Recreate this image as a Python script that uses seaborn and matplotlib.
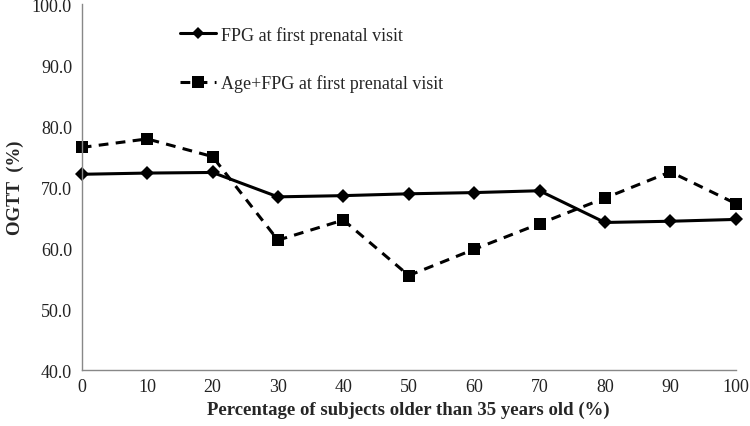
import matplotlib
matplotlib.use("Agg")
import matplotlib.pyplot as plt
import seaborn as sns
import pandas as pd

pct_older = [0, 10, 20, 30, 40, 50, 60, 70, 80, 90, 100]
fpg_only = [72.1, 72.3, 72.4, 68.4, 68.6, 68.9, 69.1, 69.4, 64.2, 64.4, 64.7]
age_fpg = [76.5, 77.9, 75.0, 61.3, 64.6, 55.5, 59.8, 64.0, 68.2, 72.5, 67.3]
y_ticks = [40, 50, 60, 70, 80, 90, 100]

lab1 = "FPG at first prenatal visit"
lab2 = "Age+FPG at first prenatal visit"
df = pd.DataFrame({
    "pct": pct_older * 2,
    "ogtt": fpg_only + age_fpg,
    "model": [lab1] * 11 + [lab2] * 11,
})

sns.set_style("white")
plt.rcParams["font.family"] = ["Liberation Serif", "DejaVu Serif"]

fig, ax = plt.subplots(figsize=(7.5, 4.27), dpi=100)
sns.lineplot(data=df, x="pct", y="ogtt", hue="model", style="model",
             markers={lab1: "D", lab2: "s"},
             dashes={lab1: "", lab2: (3.2, 2.4)},
             palette=["black", "black"], linewidth=2.2, markeredgewidth=0,
             ax=ax)

for line in ax.lines:
    line.set_clip_on(False)
    if line.get_marker() == "D":
        line.set_markersize(7)
    elif line.get_marker() == "s":
        line.set_markersize(9)

ax.set_xlim(0, 100)
ax.set_ylim(40, 100)
ax.set_xticks(pct_older)
ax.set_yticks(y_ticks)
ax.set_yticklabels([f"{v:.1f}" for v in y_ticks])
ax.tick_params(labelsize=13, labelcolor="#222222", color="#888888", length=4, width=1)
ax.tick_params(axis="x", direction="in", pad=6)
ax.tick_params(axis="y", direction="out", pad=3)
ax.set_xlabel("Percentage of subjects older than 35 years old (%)", fontsize=13.5, fontweight="bold", labelpad=4)
ax.set_ylabel("OGTT  (%)", fontsize=13.5, fontweight="bold", labelpad=6)
for side in ["top", "right"]:
    ax.spines[side].set_visible(False)
for side in ["left", "bottom"]:
    ax.spines[side].set_color("#888888")
    ax.spines[side].set_linewidth(1)

handles, labels = ax.get_legend_handles_labels()
for h in handles:
    if h.get_marker() == "D":
        h.set_markersize(6)
    elif h.get_marker() == "s":
        h.set_markersize(8)
leg = ax.legend(handles, labels, loc="upper left", bbox_to_anchor=(0.125, 0.985), frameon=False,
                fontsize=13, labelspacing=1.7, handlelength=2.0, handletextpad=0.3)

fig.subplots_adjust(left=0.109, right=0.981, top=0.988, bottom=0.131)
fig.savefig("out.png", dpi=100)
